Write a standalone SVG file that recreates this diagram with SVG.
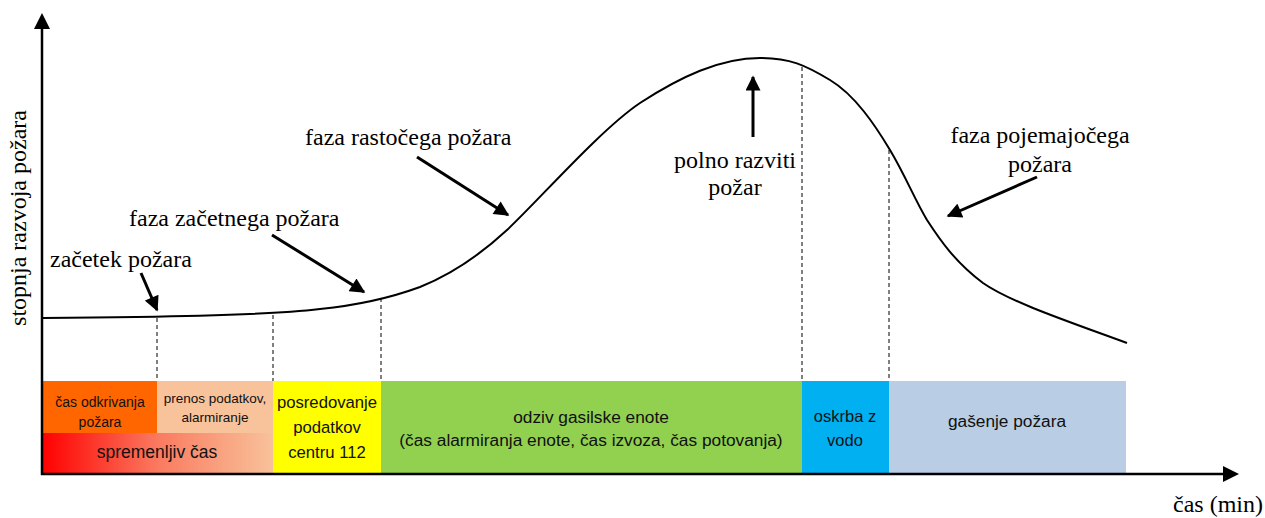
<svg xmlns="http://www.w3.org/2000/svg" width="1265" height="518" viewBox="0 0 1265 518">
<style>
.serif{font-family:"Liberation Serif","Times New Roman",serif;font-size:24px;fill:#000}
.sans{font-family:"Liberation Sans",Arial,sans-serif;fill:#111;text-anchor:middle}
.dash{stroke:#000;stroke-width:1;stroke-dasharray:4,3;fill:none}
.arr{stroke:#000;stroke-width:3;fill:none;marker-end:url(#ah)}
</style>
<defs>
<marker id="ah" viewBox="0 0 10 10" refX="9" refY="5" markerWidth="17" markerHeight="15" markerUnits="userSpaceOnUse" orient="auto">
<path d="M0,0 L10,5 L0,10 z" fill="#000"/>
</marker>
<linearGradient id="grad" x1="0" y1="0" x2="1" y2="0">
<stop offset="0" stop-color="#FF0000"/>
<stop offset="0.5" stop-color="#FA7A60"/>
<stop offset="1" stop-color="#F8C29A"/>
</linearGradient>
</defs>
<rect width="1265" height="518" fill="#fff"/>

<g id="bars">
<g id="node-odkrivanje"><rect x="42" y="381" width="115" height="52" fill="#FF6600"/>
<text class="sans" font-size="14" x="100" y="407">čas odkrivanja</text><text class="sans" font-size="14" x="100" y="427">požara</text></g>
<g id="node-prenos"><rect x="157" y="381" width="116" height="52" fill="#F8C29A"/>
<text class="sans" font-size="13.5" x="215" y="403">prenos podatkov,</text><text class="sans" font-size="13.5" x="215" y="422">alarmiranje</text></g>
<g id="node-spremenljiv"><rect x="42" y="433" width="231" height="40" fill="url(#grad)"/>
<text class="sans" font-size="17.5" x="157" y="458">spremenljiv čas</text></g>
<g id="node-posredovanje"><rect x="273" y="381" width="108" height="92" fill="#FFFF00"/>
<text class="sans" font-size="16.7" x="327" y="408">posredovanje</text><text class="sans" font-size="16.7" x="327" y="433">podatkov</text><text class="sans" font-size="16.7" x="327" y="458">centru 112</text></g>
<g id="node-odziv"><rect x="381" y="381" width="421" height="92" fill="#92D050"/>
<text class="sans" font-size="17.3" x="591" y="423">odziv gasilske enote</text><text class="sans" font-size="17.3" x="591" y="446">(čas alarmiranja enote, čas izvoza, čas potovanja)</text></g>
<g id="node-oskrba"><rect x="802" y="381" width="87" height="92" fill="#00B0F0"/>
<text class="sans" font-size="16.5" x="845" y="422">oskrba z</text><text class="sans" font-size="16.5" x="845" y="446">vodo</text></g>
<g id="node-gasenje"><rect x="889" y="381" width="237" height="92" fill="#B9CDE5"/>
<text class="sans" font-size="17.3" x="1007" y="427">gašenje požara</text></g>
</g>

<g id="dashes">
<line class="dash" x1="157" y1="318" x2="157" y2="381"/>
<line class="dash" x1="273" y1="315" x2="273" y2="381"/>
<line class="dash" x1="381" y1="298" x2="381" y2="381"/>
<line class="dash" x1="802" y1="67" x2="802" y2="381"/>
<line class="dash" x1="889" y1="150" x2="889" y2="381"/>
</g>

<g id="curve">
<path d="M42,318 C150,317 260,316 320,309 C360,305 390,298 420,287 C450,275 480,255 507,230 C540,199 600,130 640,103 C680,77 720,58 760,58 C790,58 805,65 830,80 C855,95 875,125 890,150 C905,175 915,200 927,220 C940,240 955,262 983,283 C1010,302 1070,322 1127,343" fill="none" stroke="#000" stroke-width="2"/>
</g>

<g id="axes">
<line x1="42" y1="26" x2="42" y2="475" stroke="#000" stroke-width="2.5"/>
<path d="M42,13 L50,29 L34,29 z" fill="#000"/>
<line x1="41" y1="474" x2="1225" y2="474" stroke="#000" stroke-width="2.5"/>
<path d="M1239,474 L1223,466 L1223,482 z" fill="#000"/>
</g>

<g id="connectors">
<line class="arr" x1="141" y1="273" x2="157" y2="310"/>
<line class="arr" x1="272" y1="235" x2="364" y2="292"/>
<line class="arr" x1="417" y1="157" x2="508" y2="215"/>
<line class="arr" x1="753" y1="137" x2="753" y2="77"/>
<line class="arr" x1="1037" y1="177" x2="948" y2="216"/>
</g>

<g id="labels">
<text class="serif" font-size="23" transform="translate(26,218) rotate(-90)" text-anchor="middle">stopnja razvoja požara</text>
<text class="serif" x="50" y="267">začetek požara</text>
<text class="serif" x="129" y="226">faza začetnega požara</text>
<text class="serif" x="305" y="145">faza rastočega požara</text>
<text class="serif" x="735" y="168" text-anchor="middle">polno razviti</text>
<text class="serif" x="735" y="195" text-anchor="middle">požar</text>
<text class="serif" x="1040" y="143" text-anchor="middle">faza pojemajočega</text>
<text class="serif" x="1040" y="172" text-anchor="middle">požara</text>
<text class="serif" x="1173" y="512">čas (min)</text>
</g>
</svg>
